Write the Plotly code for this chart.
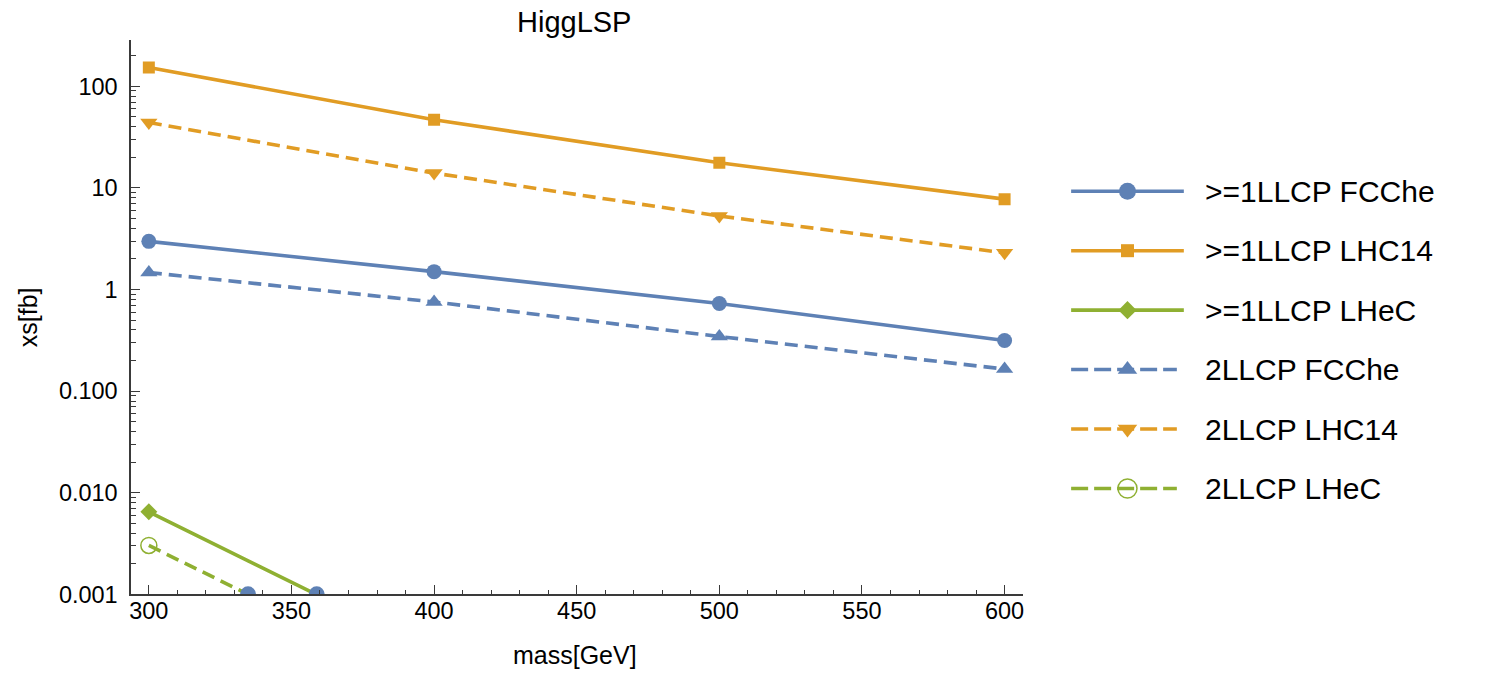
import numpy as np
import plotly.graph_objects as go

# ---- data -----------------------------------------------------------------
mass = [300, 400, 500, 600]

xs_ge1_fcche = [2.98, 1.50, 0.73, 0.315]
xs_ge1_lhc14 = [153.0, 47.0, 17.7, 7.76]
xs_ge1_lhec = [0.0065, 0.00027, 0.000011, 0.0000005]
xs_2_fcche = [1.47, 0.755, 0.345, 0.165]
xs_2_lhc14 = [44.0, 14.0, 5.3, 2.3]
xs_2_lhec = [0.00303, 0.000125, 0.000005, 0.0000002]

series_names = [
    ">=1LLCP FCChe",
    ">=1LLCP LHC14",
    ">=1LLCP LHeC",
    "2LLCP FCChe",
    "2LLCP LHC14",
    "2LLCP LHeC",
]

y_tickvals = [0.001, 0.01, 0.1, 1, 10, 100]
y_ticktext = ["0.001", "0.010", "0.100", "1", "10", "100"]
x_tickvals = [300, 350, 400, 450, 500, 550, 600]

# ---- styling --------------------------------------------------------------
W, H = 1493, 677
BLUE, ORANGE, GREEN = "#5E81B5", "#E19C24", "#8FB032"
FONT = "Liberation Sans, Arial, sans-serif"
TICK_SIZE = 23.5

# plot area in pixels
PL, PR, PT, PB = 129.5, 1023.3, 40.9, 606.0
X_RANGE = [293.8, 606.3]
Y_MIN = 0.001
Y_LOG_RANGE = [np.log10(Y_MIN), 2.455]

DASH_PLOT = "13px,7px"
DASH_LEG = "17px,6px"
LW = 3.6

styles = [
    dict(color=BLUE, dash="solid", symbol="circle", size=15, lw=0),
    dict(color=ORANGE, dash="solid", symbol="square", size=12, lw=0),
    dict(color=GREEN, dash="solid", symbol="diamond", size=13, lw=0),
    dict(color=BLUE, dash="dash", symbol="triangle-up", size=15, lw=0),
    dict(color=ORANGE, dash="dash", symbol="triangle-down", size=15, lw=0),
    dict(color=GREEN, dash="dash", symbol="circle-open", size=16, lw=1.5),
]
values = [xs_ge1_fcche, xs_ge1_lhc14, xs_ge1_lhec, xs_2_fcche, xs_2_lhc14, xs_2_lhec]

fig = go.Figure()

for name, ys, st in zip(series_names, values, styles):
    fig.add_trace(go.Scatter(
        x=mass, y=ys, name=name, mode="lines+markers",
        line=dict(color=st["color"], width=LW,
                  dash=DASH_PLOT if st["dash"] == "dash" else "solid"),
        marker=dict(symbol=st["symbol"], size=st["size"], color=st["color"],
                    line=dict(width=st["lw"], color=st["color"])),
        cliponaxis=True, showlegend=False,
    ))


def floor_crossing(xv, yv, floor):
    """x where a log-interpolated series drops through the lower axis limit."""
    lf = np.log10(floor)
    for x0, x1, y0, y1 in zip(xv[:-1], xv[1:], yv[:-1], yv[1:]):
        if y0 >= floor > y1:
            l0, l1 = np.log10(y0), np.log10(y1)
            return x0 + (x1 - x0) * (l0 - lf) / (l0 - l1)
    return None


# out-of-range indicators where the LHeC curves leave the plot
cross_x = [c for c in (floor_crossing(mass, xs_2_lhec, Y_MIN),
                       floor_crossing(mass, xs_ge1_lhec, Y_MIN)) if c is not None]
fig.add_trace(go.Scatter(
    x=cross_x, y=[Y_MIN] * len(cross_x), mode="markers",
    marker=dict(symbol="circle", size=16, color=BLUE),
    cliponaxis=True, showlegend=False, hoverinfo="skip",
))

# minor ticks of the log axis live on an overlaid twin axis
minor_y = [k * 10.0 ** e for e in range(-3, 3) for k in range(2, 10)
           if k * 10.0 ** e < 10 ** Y_LOG_RANGE[1]]
fig.add_trace(go.Scatter(x=[], y=[], xaxis="x", yaxis="y3", showlegend=False))

# ---- hand-built legend (pixel coordinates on a helper axis pair) -----------
LEG_X0, LEG_X1, LEG_TXT = 1072, 1185, 1204
LEG_Y0, LEG_DY = 195.0, 60.6
leg_marker_size = [17, 13, 14, 17, 17, 19]
for i, (name, st) in enumerate(zip(series_names, styles)):
    yrow = LEG_Y0 + i * LEG_DY
    dashed = st["dash"] == "dash"
    x_end = LEG_X1 - 7 if dashed else LEG_X1
    xm = (LEG_X0 + LEG_X1) / 2
    fig.add_trace(go.Scatter(
        x=[LEG_X0, x_end], y=[yrow, yrow], mode="lines",
        line=dict(color=st["color"], width=LW, dash=DASH_LEG if dashed else "solid"),
        xaxis="x2", yaxis="y2", showlegend=False, hoverinfo="skip",
    ))
    fig.add_trace(go.Scatter(
        x=[xm], y=[yrow], mode="markers",
        marker=dict(symbol=st["symbol"], size=leg_marker_size[i], color=st["color"],
                    line=dict(width=st["lw"], color=st["color"])),
        xaxis="x2", yaxis="y2", showlegend=False, hoverinfo="skip",
    ))
    fig.add_annotation(
        x=LEG_TXT, y=yrow, xref="x2", yref="y2", text=name, showarrow=False,
        xanchor="left", yanchor="middle", font=dict(family=FONT, size=30, color="black"),
    )

# ---- axis titles and plot title -------------------------------------------
fig.add_annotation(x=26 / W, y=1 - 323.5 / H, xref="paper", yref="paper",
                   text="xs[fb]", textangle=-90, showarrow=False,
                   xanchor="center", yanchor="middle",
                   font=dict(family=FONT, size=25, color="black"))
fig.add_annotation(x=574.5 / W, y=1 - 668 / H, xref="paper", yref="paper",
                   text="mass[GeV]", showarrow=False,
                   xanchor="center", yanchor="middle",
                   font=dict(family=FONT, size=25, color="black"))
fig.add_annotation(x=573.5 / W, y=1 - 22.5 / H, xref="paper", yref="paper",
                   text="HiggLSP", showarrow=False,
                   xanchor="center", yanchor="middle",
                   font=dict(family=FONT, size=29, color="black"))

AX_COL = "#3a3a3a"
fig.update_layout(
    width=W, height=H,
    margin=dict(l=0, r=0, t=0, b=0),
    paper_bgcolor="white", plot_bgcolor="rgba(0,0,0,0)",
    font=dict(family=FONT, size=22, color="black"),
    xaxis=dict(
        domain=[PL / W, PR / W], range=X_RANGE, anchor="y",
        tickmode="array", tickvals=x_tickvals,
        ticks="inside", ticklen=10, tickwidth=1.2, tickcolor=AX_COL,
        minor=dict(dtick=10, tick0=300, ticks="inside", ticklen=5,
                   tickwidth=1, tickcolor=AX_COL, showgrid=False),
        showline=True, linecolor=AX_COL, linewidth=1.5,
        showgrid=False, zeroline=False, ticklabelstandoff=-5,
        tickfont=dict(family=FONT, size=TICK_SIZE, color="black"),
    ),
    yaxis=dict(
        domain=[1 - PB / H, 1 - PT / H], type="log", range=Y_LOG_RANGE, anchor="x",
        tickmode="array", tickvals=y_tickvals, ticktext=y_ticktext,
        ticks="inside", ticklen=9, tickwidth=1.2, tickcolor=AX_COL,
        showline=True, linecolor=AX_COL, linewidth=1.5,
        showgrid=False, zeroline=False, ticklabelstandoff=7,
        tickfont=dict(family=FONT, size=TICK_SIZE, color="black"),
    ),
    yaxis3=dict(
        overlaying="y", anchor="x", side="left", type="log", range=Y_LOG_RANGE,
        tickmode="array", tickvals=minor_y, showticklabels=False,
        ticks="inside", ticklen=5, tickwidth=1, tickcolor=AX_COL,
        showline=False, showgrid=False, zeroline=False,
    ),
    xaxis2=dict(domain=[0, 1], range=[0, W], anchor="y2", visible=False),
    yaxis2=dict(domain=[0, 1], range=[H, 0], anchor="x2", visible=False),
    showlegend=False,
)

fig.write_html("out.html")
